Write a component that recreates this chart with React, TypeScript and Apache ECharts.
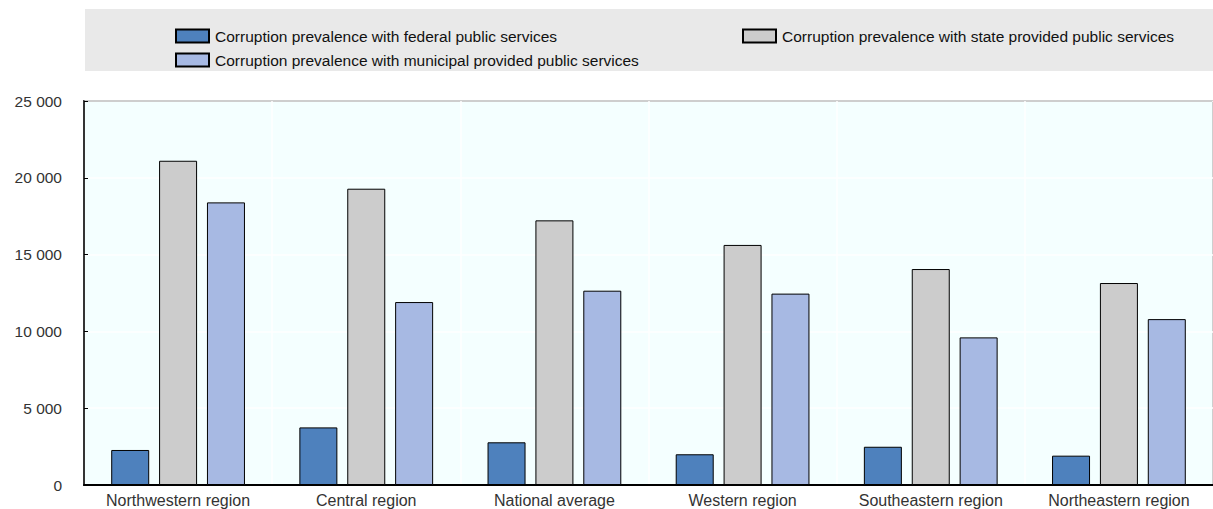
import React, { useEffect, useRef } from "react";
import * as echarts from "echarts";

const categories = [
  "Northwestern region",
  "Central region",
  "National average",
  "Western region",
  "Southeastern region",
  "Northeastern region",
];
const federalValues = [2280, 3750, 2780, 2000, 2490, 1910];
const stateValues = [21110, 19290, 17230, 15630, 14060, 13150];
const municipalValues = [18400, 11910, 12650, 12460, 9610, 10800];
const seriesNames = [
  "Corruption prevalence with federal public services",
  "Corruption prevalence with state provided public services",
  "Corruption prevalence with municipal provided public services",
];
const yTicks = [0, 5000, 10000, 15000, 20000, 25000];

const FONT = "'Liberation Sans', Arial, sans-serif";

export default function App() {
  const ref = useRef<HTMLDivElement>(null);
  useEffect(() => {
    document.body.style.margin = "0";
    if (!ref.current) return;
    const chart = echarts.init(ref.current, null, { renderer: "svg" });
    const colors = ["#4E81BD", "#CCCCCC", "#A7B9E3"];
    const values = [federalValues, stateValues, municipalValues];
    const legendBase = {
      orient: "horizontal",
      itemWidth: 33,
      itemHeight: 13,
      itemGap: 10,
      textStyle: { fontFamily: FONT, fontSize: 15.5, color: "#111", padding: [0, 0, 0, 1] },
      icon: "rect",
    };
    chart.setOption({
      animation: false,
      graphic: [
        {
          type: "rect",
          left: 85,
          top: 9,
          shape: { width: 1128, height: 62 },
          style: { fill: "#E9E9E9" },
          z: -1,
        },
      ],
      legend: [
        { ...legendBase, left: 170, top: 23, data: [seriesNames[0]] },
        { ...legendBase, left: 737, top: 23, data: [seriesNames[1]] },
        { ...legendBase, left: 170, top: 47, data: [seriesNames[2]] },
      ],
      grid: {
        left: 84,
        top: 101,
        width: 1140,
        height: 384,
        show: true,
        backgroundColor: "#F4FFFF",
        borderColor: "#000",
        borderWidth: 1.5,
      },
      xAxis: {
        type: "category",
        data: categories,
        axisLine: { lineStyle: { color: "#000", width: 2 } },
        axisTick: { inside: true, length: 5, lineStyle: { color: "#000", width: 1.5 } },
        splitLine: { show: true, lineStyle: { color: "#FFFFFF", width: 1.5 } },
        axisLabel: { fontFamily: FONT, fontSize: 16, color: "#333", margin: 7 },
      },
      yAxis: {
        type: "value",
        min: yTicks[0],
        max: yTicks[yTicks.length - 1],
        interval: 5000,
        axisLine: { show: true, lineStyle: { color: "#000", width: 1.5 } },
        axisTick: { show: true, inside: true, length: 4, lineStyle: { color: "#000" } },
        splitLine: { show: true, lineStyle: { color: "#FFFFFF", width: 1.5 } },
        axisLabel: {
          fontFamily: FONT,
          fontSize: 15.5,
          color: "#333",
          margin: 22,
          formatter: (v: number) => String(v).replace(/\B(?=(\d{3})+(?!\d))/g, " "),
        },
      },
      series: seriesNames.map((name, i) => ({
        name,
        type: "bar",
        data: values[i],
        barWidth: 38,
        barGap: "26%",
        itemStyle: { color: colors[i], borderColor: "#000", borderWidth: 1 },
      })),
    });
    return () => chart.dispose();
  }, []);
  return <div ref={ref} style={{ width: 1213, height: 509 }} />;
}
